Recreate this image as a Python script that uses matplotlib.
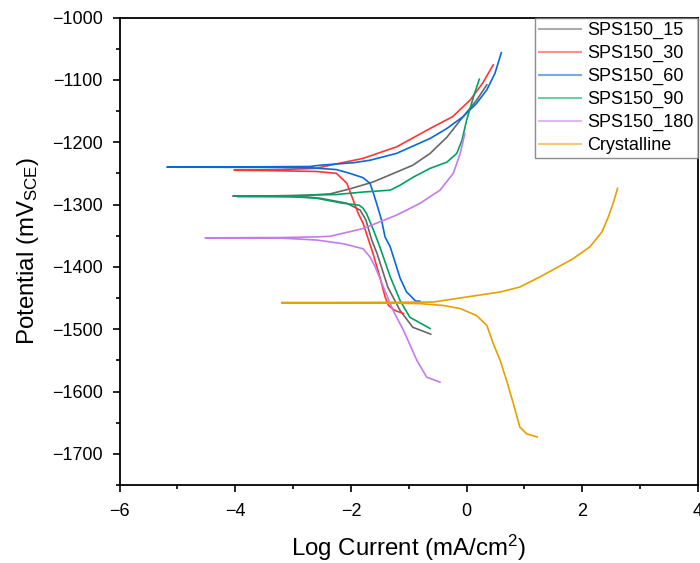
import matplotlib
matplotlib.use("Agg")
import matplotlib.pyplot as plt
from matplotlib.ticker import MultipleLocator
from matplotlib.lines import Line2D

plt.rcParams['font.family'] = ['Liberation Sans', 'DejaVu Sans']
plt.rcParams['mathtext.fontset'] = 'custom'
plt.rcParams['mathtext.rm'] = 'Liberation Sans'
plt.rcParams['mathtext.it'] = 'Liberation Sans:italic'
plt.rcParams['mathtext.default'] = 'regular'

labels = ["SPS150_15", "SPS150_30", "SPS150_60", "SPS150_90", "SPS150_180", "Crystalline"]
colors = ["#686868", "#FF3535", "#0868DC", "#00A262", "#C47CEC", "#E6A000"]

# Log current (mA/cm^2) and potential (mV_SCE), cathodic end -> Ecorr -> anodic end
x_15 = [-0.62, -0.93, -1.15, -1.36, -1.55, -1.64, -1.74, -1.84, -2.07, -2.53, -2.74, -3.3, -4.04,
        -3.3, -2.74, -2.36, -2.02, -1.62, -1.21, -0.93, -0.63, -0.34, -0.06, 0.17, 0.35]
y_15 = [-1508, -1497, -1470, -1433, -1378, -1357, -1325, -1309, -1298, -1290, -1288, -1287, -1286.5,
        -1286, -1285, -1283, -1275, -1264, -1248, -1237, -1218, -1192, -1159, -1133, -1108]

x_30 = [-1.09, -1.24, -1.35, -1.41, -1.50, -1.62, -1.79, -1.87, -1.96, -2.07, -2.25, -2.6, -3.2, -4.02,
        -3.2, -2.6, -2.36, -1.79, -1.21, -0.63, -0.24, 0.06, 0.28, 0.46]
y_30 = [-1475, -1470, -1462, -1448, -1416, -1378, -1330, -1315, -1293, -1266, -1250, -1247, -1246, -1245,
        -1244, -1242, -1237, -1226, -1207.5, -1178, -1159, -1132.5, -1105, -1076]

x_60 = [-0.81, -0.88, -1.04, -1.15, -1.32, -1.41, -1.47, -1.55, -1.61, -1.67, -1.79, -2.02, -2.25, -2.71, -3.5, -5.18,
        -3.5, -2.71, -2.53, -1.96, -1.67, -1.21, -0.63, -0.34, -0.06, 0.17, 0.35, 0.49, 0.60]
y_60 = [-1455, -1455, -1440, -1418, -1368, -1352, -1325, -1300, -1282, -1266, -1257, -1250, -1244, -1241, -1240.5, -1240,
        -1239.5, -1239, -1237, -1233, -1229, -1218, -1194, -1178, -1159, -1138, -1116, -1089.6, -1056.5]

x_90 = [-0.63, -0.98, -1.15, -1.32, -1.50, -1.61, -1.73, -1.79, -1.86, -2.14, -2.59, -3.0, -3.97,
        -3.0, -2.71, -2.25, -1.79, -1.32, -1.15, -0.92, -0.63, -0.34, -0.17, -0.08, 0.00, 0.12, 0.22]
y_90 = [-1499, -1481, -1454, -1416, -1368, -1341, -1314.5, -1306, -1301, -1298, -1290, -1287.5, -1287,
        -1286.5, -1285, -1284, -1280, -1277, -1269, -1256, -1242, -1232, -1218, -1197, -1165, -1127, -1099]

x_180 = [-0.46, -0.69, -0.86, -1.09, -1.27, -1.44, -1.58, -1.67, -1.79, -2.13, -2.59, -3.2, -4.52,
         -3.2, -2.59, -2.36, -1.79, -1.21, -0.81, -0.46, -0.23, -0.11, -0.03]
y_180 = [-1585, -1577, -1550, -1502, -1470, -1432, -1400, -1384, -1371, -1363, -1357, -1354, -1353.5,
         -1353, -1352, -1351, -1338.6, -1317, -1298.4, -1277, -1250, -1218, -1186]

x_cr = [1.22, 1.04, 0.92, 0.81, 0.69, 0.58, 0.46, 0.35, 0.17, -0.11, -0.40, -0.81, -1.5, -3.20,
        -1.5, -0.58, 0.00, 0.58, 0.92, 1.27, 1.50, 1.84, 2.13, 2.34, 2.45, 2.54, 2.61]
y_cr = [-1673, -1668, -1657, -1620, -1582, -1550, -1523, -1494, -1478, -1467, -1462, -1459, -1458, -1457.5,
        -1457, -1456.5, -1448.4, -1440.4, -1432.4, -1416, -1404.4, -1387, -1368, -1344, -1320, -1296, -1274]

series = [(x_15, y_15), (x_30, y_30), (x_60, y_60), (x_90, y_90), (x_180, y_180), (x_cr, y_cr)]

fig = plt.figure(figsize=(7.0, 5.63), dpi=100)
ax = fig.add_axes([119.5 / 700, 1 - 485 / 563, (698 - 119.5) / 700, (485 - 17.5) / 563])

for (xs, ys), c in zip(series, colors):
    ax.plot(xs, ys, color=c, lw=1.2)

ax.set_xlim(-6, 4)
ax.set_ylim(-1750, -1000)
ax.xaxis.set_major_locator(MultipleLocator(2))
ax.xaxis.set_minor_locator(MultipleLocator(1))
ax.yaxis.set_major_locator(MultipleLocator(100))
ax.yaxis.set_minor_locator(MultipleLocator(50))
ax.tick_params(which='major', direction='out', length=5, width=1.2, labelsize=13, colors='black')
ax.tick_params(axis='y', which='major', pad=7)
ax.tick_params(axis='x', which='major', pad=8)
ax.tick_params(which='minor', direction='out', length=3, width=1.2)
for s in ax.spines.values():
    s.set_linewidth(1.3)

ax.set_xlabel("Log Current (mA/cm$^2$)", fontsize=17.3, labelpad=9.5)
ax.set_ylabel("Potential (mV$_{SCE}$)", fontsize=17.3)
ax.yaxis.set_label_coords(-0.136, 0.5)

handles = [Line2D([], [], color=c, lw=1.5, alpha=0.55) for c in colors]
leg = ax.legend(handles, labels, loc='upper right', fontsize=13, frameon=True, fancybox=False,
                borderaxespad=0, handlelength=2.3, handletextpad=0.35, labelspacing=0.32,
                borderpad=0.25)
leg.get_frame().set_edgecolor('#707070')
leg.get_frame().set_linewidth(1.0)

fig.savefig("out.png", dpi=100)
